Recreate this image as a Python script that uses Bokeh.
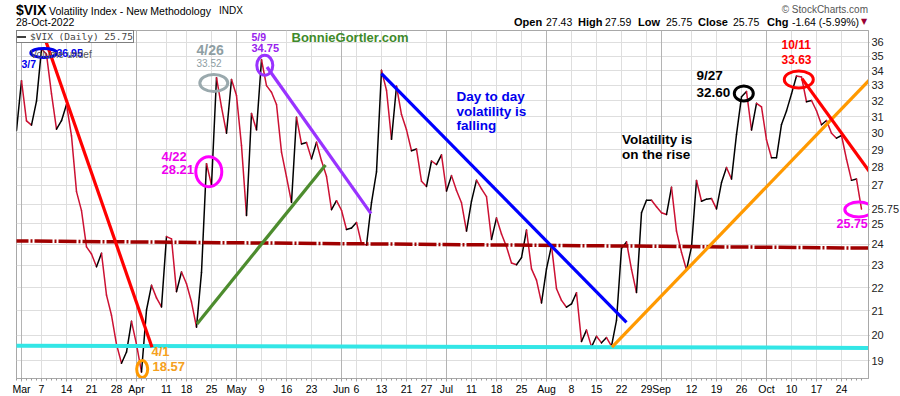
import html
import pandas as pd
from bokeh.plotting import figure
from bokeh.layouts import column
from bokeh.models import (Range1d, FixedTicker, Label, ColumnDataSource, Div,
                          Legend, LegendItem, Grid, NumeralTickFormatter)
from bokeh.embed import file_html
from bokeh.resources import INLINE

# ---------------- data ----------------
holidays = ["2022-04-15", "2022-05-30", "2022-06-20", "2022-07-04", "2022-09-05"]
vix_feb = [30.15]
vix_mar = [33.32, 30.74, 30.48, 31.98, 35.50, 35.13, 32.45, 30.23, 30.75, 31.77, 29.83, 26.67,
           25.67, 23.87, 23.53, 22.94, 23.57, 21.67, 20.81, 19.63, 18.90, 19.33, 20.56]
vix_apr = [19.63, 18.57, 21.03, 22.10, 21.55, 21.16, 24.37, 24.26, 21.82, 22.70, 22.17, 21.37,
           20.32, 22.68, 28.21, 27.02, 33.52, 31.60, 29.99, 33.40]
vix_may = [32.34, 29.25, 25.42, 31.20, 30.19, 34.75, 32.99, 32.56, 31.77, 28.87, 27.47, 26.10,
           30.96, 29.35, 29.43, 28.48, 29.45, 28.37, 27.50, 25.72, 26.19]
vix_jun = [25.69, 24.72, 24.79, 25.07, 24.02, 23.96, 26.09, 27.75, 34.02, 32.69, 29.62, 32.95,
           31.13, 30.19, 28.95, 29.05, 27.23, 26.95, 28.36, 28.16, 28.71]
vix_jul = [26.70, 27.54, 26.73, 26.08, 24.64, 26.17, 27.29, 26.82, 26.40, 24.23, 25.30, 24.50,
           23.88, 23.11, 23.03, 23.36, 24.69, 22.84, 22.33, 21.33]
vix_aug = [22.84, 23.93, 21.95, 21.44, 21.15, 21.29, 21.77, 19.74, 20.20, 19.53, 19.95, 19.69,
           19.90, 19.56, 20.60, 23.80, 24.11, 22.82, 21.78, 25.56, 26.21, 26.21, 25.87]
vix_sep = [25.56, 25.47, 26.91, 24.64, 23.61, 22.79, 23.87, 27.27, 26.16, 26.27, 26.30, 25.76,
           27.16, 27.99, 27.35, 29.92, 32.26, 32.60, 30.18, 31.84, 31.62]
vix_oct = [29.59, 28.55, 28.55, 30.52, 31.36, 32.45, 33.63, 33.57, 31.94, 32.02, 31.37, 30.50,
           30.76, 29.98, 29.69, 29.85, 28.46, 27.28, 27.35, 25.75]
closes = vix_feb + vix_mar + vix_apr + vix_may + vix_jun + vix_jul + vix_aug + vix_sep + vix_oct

dates = [d for d in pd.bdate_range("2022-02-28", "2022-10-28")
         if d.strftime("%Y-%m-%d") not in holidays]
day_index = {d.strftime("%Y-%m-%d"): i for i, d in enumerate(dates)}
xs = list(range(len(dates)))

month_tick_dates = ["2022-03-01", "2022-04-01", "2022-05-02", "2022-06-01", "2022-07-01",
                    "2022-08-01", "2022-09-01", "2022-10-03"]
month_tick_labels = ["Mar", "Apr", "May", "Jun", "Jul", "Aug", "Sep", "Oct"]
week_tick_dates = ["2022-03-07", "2022-03-14", "2022-03-21", "2022-03-28", "2022-04-11",
                   "2022-04-18", "2022-04-25", "2022-05-09", "2022-05-16", "2022-05-23",
                   "2022-06-06", "2022-06-13", "2022-06-21", "2022-06-27", "2022-07-11",
                   "2022-07-18", "2022-07-25", "2022-08-08", "2022-08-15", "2022-08-22",
                   "2022-08-29", "2022-09-12", "2022-09-19", "2022-09-26", "2022-10-10",
                   "2022-10-17", "2022-10-24"]
week_tick_labels = ["7", "14", "21", "28", "11", "18", "25", "9", "16", "23", "6", "13", "21",
                    "27", "11", "18", "25", "8", "15", "22", "29", "12", "19", "26", "10", "17", "24"]
y_ticks = list(range(19, 37))
last_close = closes[-1]

# trend lines drawn on the chart (x in trading-day index, y in VIX value)
trend_x0 = [5.34, 36.1, 50.1, 73.0, 119.1, 157.1]
trend_y0 = [36.63, 20.45, 34.25, 33.80, 19.52, 33.46]
trend_x1 = [27.1, 61.8, 70.9, 122.0, 172.1, 173.8]
trend_y1 = [19.52, 28.14, 25.52, 20.52, 33.90, 26.56]
trend_colors = ["#ff0000", "#4d8c2e", "#9933ff", "#0000ff", "#ff9900", "#ff0000"]
support_x = [-3.2, 172.1]
support_y = [19.58, 19.49]
mid_x = [-1.2, 176.8]
mid_y = [24.16, 23.80]

# circled points
ring_x = [5.46, 39.46, 38.46, 49.66, 25.14, 145.46, 156.46, 168.46]
ring_y = [35.23, 33.17, 27.76, 34.36, 18.68, 32.48, 33.40, 25.73]
ring_w = [26, 28, 26, 16, 11, 19, 29, 28]
ring_h = [9, 17, 30, 20, 17, 15, 17, 15]
ring_colors = ["#0000ee", "#9aa9ad", "#ff00ff", "#9933ff", "#ff9900", "#000000", "#ff0000", "#ff00ff"]

# chart notes
note_text = ["3/7", "36.95", "4/26", "33.52", "4/22", "28.21", "5/9", "34.75",
             "BonnieGortler.com", "4/1", "18.57", "Day to day", "volatility is", "falling",
             "Volatility is", "on the rise", "9/27", "32.60", "10/11", "33.63", "25.75"]
note_x = [1.0, 8.0, 36.0, 36.0, 29.0, 29.0, 47.0, 47.0, 55.0, 27.0, 27.2, 88.0, 88.0, 88.0,
          121.1, 121.1, 136.0, 136.0, 153.0, 153.0, 164.0]
note_y = [34.43, 35.20, 35.41, 34.50, 28.63, 27.86, 36.35, 35.58, 36.30, 19.34, 18.77, 32.30,
          31.32, 30.43, 29.64, 28.75, 33.68, 32.56, 35.76, 34.78, 25.02]
note_color = ["#0000ee", "#0000ee", "#8e9ea3", "#8e9ea3", "#ee00ee", "#ee00ee", "#9922ee",
              "#9922ee", "#3f8a2a", "#f5a020", "#f5a020", "#0000ee", "#0000ee", "#0000ee",
              "#000000", "#000000", "#000000", "#000000", "#ff0000", "#ff0000", "#ee00ee"]
note_size = ["10.5px", "10.5px", "14px", "10px", "13px", "13px", "10.5px", "11px", "13px",
             "13px", "13px", "13.5px", "13.5px", "13.5px", "13.5px", "13.5px", "13.5px",
             "13.5px", "12px", "12px", "12.5px"]
note_style = ["bold"] * 3 + ["normal"] + ["bold"] * 17

# header (left edge in px, baseline in px from the top)
head_text = ["$VIX", "Volatility Index - New Methodology", "INDX", "28-Oct-2022",
             "\u00a9 StockCharts.com", "Open", "27.43", "High", "27.59", "Low", "25.75",
             "Close", "25.75", "Chg", "-1.64 (-5.99%)", "\u25bc"]
head_left = [16, 49, 219, 16, 868, 514, 546, 578, 605, 638, 666, 698, 733, 767, 792, 861]
head_base = [14.5, 14.5, 14.5, 26, 13, 26, 26, 26, 26, 26, 26, 26, 26, 26, 26, 25]
head_size = [14, 10.6, 10, 10.5, 10, 11, 10.5, 11, 10.5, 11, 10.5, 11, 10.5, 11, 10.5, 8]
head_weight = ["bold", "normal", "normal", "normal", "normal", "bold", "normal", "bold",
               "normal", "bold", "normal", "bold", "normal", "bold", "normal", "normal"]
head_align = ["left"] * 4 + ["right"] + ["left"] * 11
head_color = ["#000000"] * 4 + ["#555555"] + ["#000000"] * 10 + ["#990033"]

FONT = "Liberation Sans"
CW = 899
HEAD_H = 30
FW, FH = 852, 348
X0, X1 = 0.0, 170.4
Y0, Y1 = 18.33, 36.85

# ---------------- header ----------------
spans = []
for t, lf, bl, sz, wt, al, col in zip(head_text, head_left, head_base, head_size, head_weight,
                                      head_align, head_color):
    top = bl - 0.8465 * sz
    pos = "left:%dpx;" % lf if al == "left" else "right:%dpx;" % (CW - lf)
    fam = "'DejaVu Sans'" if t == "\u25bc" else "'%s'" % FONT
    spans.append('<span style="position:absolute;%stop:%.1fpx;font-family:%s;font-size:%.1fpx;'
                 'font-weight:%s;color:%s;line-height:1;white-space:nowrap;">%s</span>'
                 % (pos, top, fam, sz, wt, col, html.escape(t)))
header = Div(text='<div style="position:relative;width:%dpx;height:%dpx;">%s</div>'
             % (CW, HEAD_H, "".join(spans)), width=CW, height=HEAD_H, margin=(0, 0, 0, 0))

# ---------------- figure ----------------
p = figure(frame_width=FW, frame_height=FH, x_range=Range1d(X0, X1),
           y_range=Range1d(Y0, Y1), y_axis_type="log", y_axis_location="right",
           output_backend="svg", toolbar_location=None, margin=(0, 0, 0, 0),
           min_border_left=16, min_border_right=31, min_border_top=0, min_border_bottom=16,
           background_fill_color="white", border_fill_color="white",
           outline_line_color="#a8a8a8")

week_x = [day_index[d] for d in week_tick_dates]
month_x = [day_index[d] for d in month_tick_dates]

# x axis
p.xaxis.ticker = FixedTicker(ticks=sorted(week_x + month_x), minor_ticks=xs)
overrides = {x: lab for x, lab in zip(week_x, week_tick_labels)}
overrides.update({x: lab for x, lab in zip(month_x, month_tick_labels)})
p.xaxis.major_label_overrides = overrides
p.xaxis.major_label_text_font = FONT
p.xaxis.major_label_text_font_size = "10.5px"
p.xaxis.major_label_text_color = "#000000"
p.xaxis.major_label_standoff = 1
p.xaxis.major_tick_in = 0
p.xaxis.major_tick_out = 3
p.xaxis.minor_tick_in = 0
p.xaxis.minor_tick_out = 2
p.xaxis.axis_line_color = "#a8a8a8"
p.xaxis.major_tick_line_color = "#a8a8a8"
p.xaxis.minor_tick_line_color = "#999999"

# y axis (last close shown on the axis in place of the hidden "26")
p.yaxis.ticker = FixedTicker(ticks=y_ticks + [last_close])
p.yaxis.formatter = NumeralTickFormatter(format="0")
p.yaxis.major_label_overrides = {26: "", last_close: "%.2f" % last_close}
p.yaxis.major_label_text_font = FONT
p.yaxis.major_label_text_font_size = "11px"
p.yaxis.major_label_text_color = "#222222"
p.yaxis.major_label_standoff = 2
p.yaxis.major_tick_in = 0
p.yaxis.major_tick_out = 1
p.yaxis.minor_tick_out = 0
p.yaxis.minor_tick_in = 0
p.yaxis.axis_line_color = "#a8a8a8"
p.yaxis.major_tick_line_color = "#a8a8a8"

# grids
p.xgrid.ticker = FixedTicker(ticks=week_x)
p.xgrid.grid_line_color = "#dedede"
p.ygrid.ticker = FixedTicker(ticks=y_ticks)
p.ygrid.grid_line_color = "#dedede"
p.add_layout(Grid(dimension=0, ticker=FixedTicker(ticks=month_x), grid_line_color="#b4b4b4"))

# price line coloured by direction
seg_src = ColumnDataSource(dict(
    x0=xs[:-1], x1=xs[1:], y0=closes[:-1], y1=closes[1:],
    color=["#000000" if b >= a else "#cc1133" for a, b in zip(closes[:-1], closes[1:])]))
seg = p.segment("x0", "y0", "x1", "y1", source=seg_src, line_color="color",
                line_width=1.5, line_cap="round")

# horizontal guide lines
p.line(support_x, support_y, line_color="#33e6e6", line_width=4)
p.line(mid_x, mid_y, line_color="#a00000", line_width=3.5, line_dash="18 2 2 2")

# trend lines
tsrc = ColumnDataSource(dict(x0=trend_x0, y0=trend_y0, x1=trend_x1, y1=trend_y1, c=trend_colors))
p.segment("x0", "y0", "x1", "y1", source=tsrc, line_color="c", line_width=3.2)

# rings
rsrc = ColumnDataSource(dict(x=ring_x, y=ring_y, w=ring_w, h=ring_h, c=ring_colors))
p.ellipse(x="x", y="y", width="w", height="h", width_units="screen", height_units="screen",
          source=rsrc, fill_alpha=0, line_color="c", line_width=3)

# notes
for t, x, y, c, s, st in zip(note_text, note_x, note_y, note_color, note_size, note_style):
    p.add_layout(Label(x=x, y=y, text=t, text_color=c, text_font=FONT, text_font_size=s,
                       text_font_style=st, text_align="left", text_baseline="middle"))

p.add_layout(Label(x=2.8, y=35.12, text="Volume undef",
                   text_color="#555555", text_font=FONT, text_font_size="10px",
                   text_baseline="middle"))

# legend box
legend = Legend(items=[LegendItem(label="$VIX (Daily) 25.75", renderers=[seg], index=0)],
                location="top_left", margin=0, padding=0, spacing=0, glyph_width=9,
                glyph_height=9, label_height=9, label_standoff=4,
                label_text_font="DejaVu Sans Mono", label_text_font_size="9.5px",
                border_line_color="#000000", border_line_width=1,
                background_fill_color="white", background_fill_alpha=1)
p.add_layout(legend)

layout = column(header, p, spacing=0)
open("out.html", "w").write(file_html(layout, INLINE))
